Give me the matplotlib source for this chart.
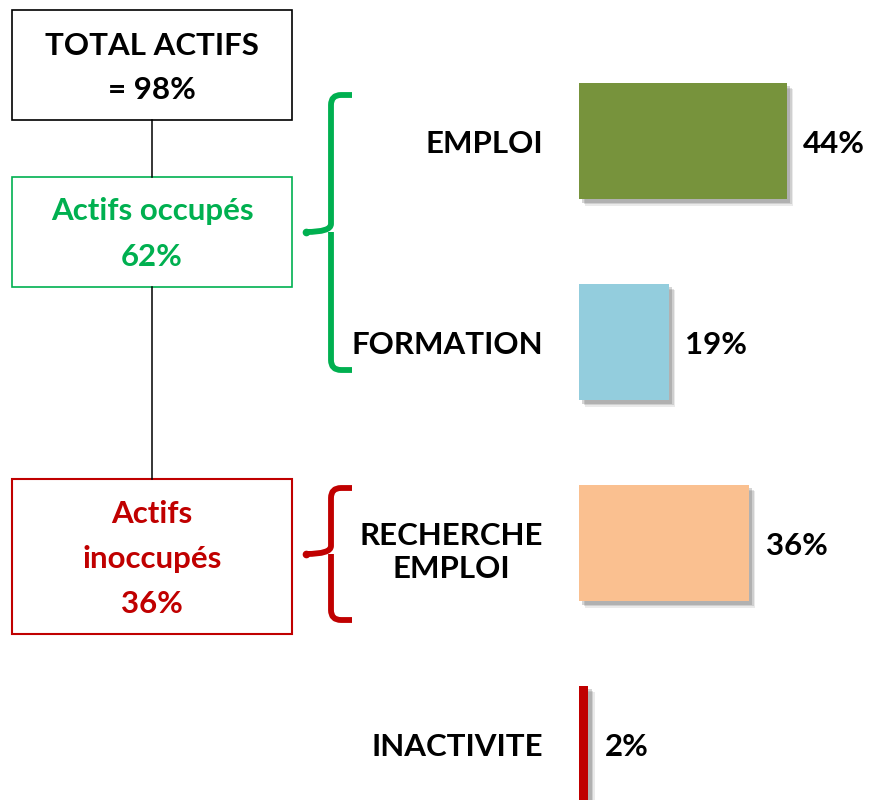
import matplotlib
matplotlib.use("Agg")
import matplotlib.pyplot as plt
import matplotlib.patheffects as pe
from matplotlib.patches import Rectangle, PathPatch
from matplotlib.path import Path

# data
categories = ['EMPLOI', 'FORMATION', 'RECHERCHE\nEMPLOI', 'INACTIVITE']
values = [44, 19, 36, 2]
bar_colors = ['#77933C', '#93CDDD', '#FAC090', '#C00000']
total_lines = ['TOTAL ACTIFS', '= 98%']
occupied_lines = ['Actifs occupés', '62%']
unoccupied_lines = ['Actifs', 'inoccupés', '36%']

GREEN = '#00B050'
RED = '#C00000'
plt.rcParams['font.family'] = ['Lato', 'DejaVu Sans']
FS = 22.5

W, H = 871, 800
fig = plt.figure(figsize=(W / 100, H / 100), dpi=100)

# background axes in pixel coordinates for boxes, connectors and braces
bg = fig.add_axes([0, 0, 1, 1])
bg.set_xlim(0, W)
bg.set_ylim(H, 0)
bg.axis('off')


def box(y0, y1, color, lw, lines, baselines):
    bg.add_patch(Rectangle((12, y0), 280, y1 - y0, fill=False,
                           edgecolor=color, linewidth=lw))
    for txt, yb in zip(lines, baselines):
        bg.text(152, yb, txt, ha='center', va='baseline', fontsize=FS,
                fontweight='bold', color=color)


box(10, 120, 'black', 1.2, total_lines, [55, 99])
box(177, 287, GREEN, 1.2, occupied_lines, [220, 266])
box(479, 634, RED, 1.5, unoccupied_lines, [523, 568, 613])

# connectors
bg.plot([152, 152], [120, 177], color='black', lw=1.1)
bg.plot([152, 152], [287, 479], color='black', lw=1.1)


def brace(top, bottom, mid, color):
    x, r = 331, 10
    verts = [(352, top), (x + r, top), (x, top), (x, top + r),
             (x, mid - 8), (x, mid), (306, mid),
             (x, mid), (x, mid + 8),
             (x, bottom - r), (x, bottom), (x + r, bottom), (352, bottom)]
    codes = [Path.MOVETO, Path.LINETO, Path.CURVE3, Path.CURVE3,
             Path.LINETO, Path.CURVE3, Path.CURVE3,
             Path.MOVETO, Path.CURVE3,
             Path.LINETO, Path.CURVE3, Path.CURVE3, Path.LINETO]
    bg.add_patch(PathPatch(Path(verts, codes), fill=False, edgecolor=color,
                           linewidth=4.2, capstyle='butt', joinstyle='round'))
    # small round tip on the nub
    bg.plot([306], [mid], 'o', color=color, ms=4.5)


brace(95, 370, 232, GREEN)
brace(488, 620, 554, RED)

# bar axes: left edge at x=579 px, 4.72 px per percent
px_per_pct = 4.72
ax = fig.add_axes([579 / W, 0, (W - 579) / W, 1])
ax.set_xlim(0, (W - 579) / px_per_pct)
pitch = 201.0
ax.set_ylim((H - 141) / pitch, -141 / pitch)
ax.axis('off')

shadow = [pe.SimplePatchShadow(offset=(4.5, -4.5), shadow_rgbFace='0.35', alpha=0.12),
          pe.SimplePatchShadow(offset=(3.5, -3.5), shadow_rgbFace='0.35', alpha=0.18),
          pe.SimplePatchShadow(offset=(2.5, -2.5), shadow_rgbFace='0.35', alpha=0.25),
          pe.Normal()]

pos = list(range(len(categories)))
bars = ax.barh(pos, values, height=0.58, color=bar_colors, edgecolor='none')
for b in bars:
    b.set_path_effects(shadow)
    b.set_clip_on(False)

for i, (cat, v) in enumerate(zip(categories, values)):
    ax.annotate(f'{v}%', xy=(v, i), xytext=(12, -8.6), textcoords='offset points',
                ha='left', va='baseline', fontsize=FS, fontweight='bold',
                color='black')
    ax.annotate(cat, xy=(0, i), xytext=(-26, -8.6 if '\n' not in cat else -25),
                textcoords='offset points', ha='right', va='baseline',
                multialignment='center', fontsize=FS, fontweight='bold',
                color='black', linespacing=1.2, annotation_clip=False)

fig.savefig('out.png', dpi=100)
